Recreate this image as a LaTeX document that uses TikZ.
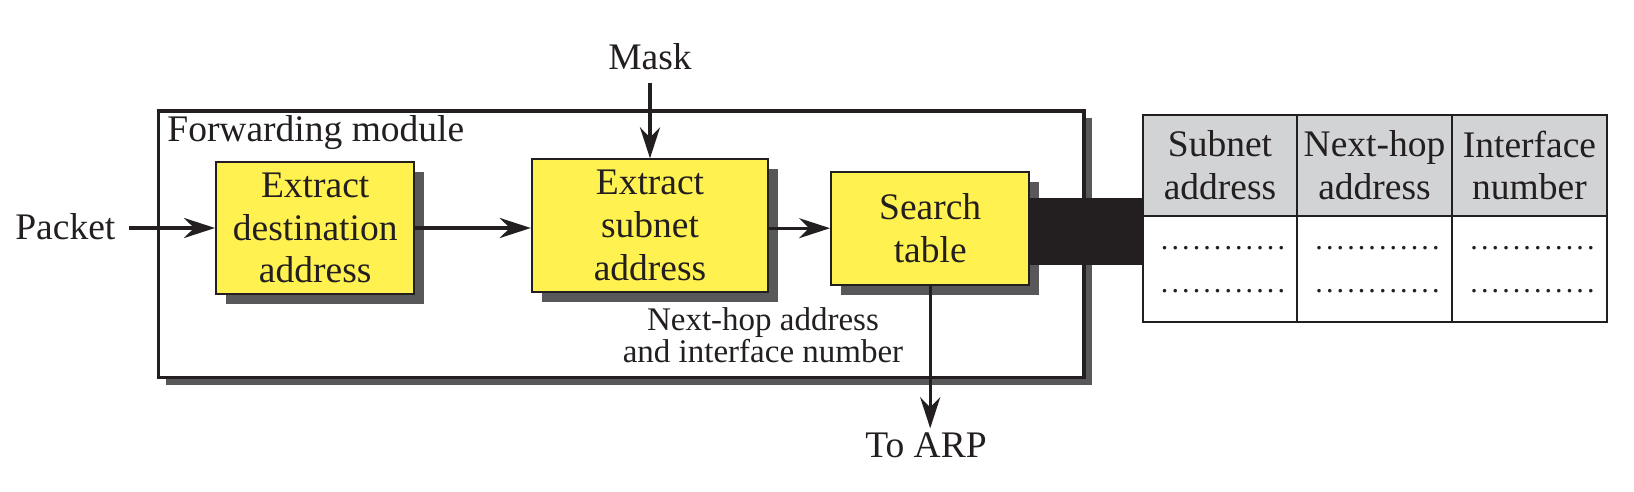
\documentclass[tikz,border=0pt]{standalone}
\usepackage{fontspec}
\setmainfont{Liberation Serif}
\usetikzlibrary{arrows.meta,shadows}

\definecolor{boxyellow}{RGB}{255,241,80}
\definecolor{shadowgray}{RGB}{88,88,90}
\definecolor{headgray}{RGB}{210,211,213}
\definecolor{inkcol}{RGB}{35,31,32}

\newcommand{\dotrow}{\hbox to 63.6pt{\xleaders\hbox to 5.3pt{\hss.\hss}\hfill}}
\newcommand{\notefont}{\fontsize{16.5pt}{15pt}\selectfont}

\begin{document}
\begin{tikzpicture}[x=0.5pt,y=-0.5pt,
  every node/.style={font=\fontsize{18.75pt}{21.4pt}\selectfont, text=inkcol},
  block/.style={draw=inkcol, line width=1pt, fill=boxyellow, align=center, inner sep=0pt,
    drop shadow={shadow xshift=5pt, shadow yshift=-5pt, fill=shadowgray, opacity=1}},
  flow/.style={draw=inkcol, line width=1.6pt, -{Stealth[length=15.5pt,width=10pt,inset=5pt]}}]

\useasboundingbox (0,0) rectangle (1634,492);

% Forwarding module
\node (fwd) [draw=inkcol, line width=1.9pt, fill=white, minimum width=462.85pt, minimum height=133.4pt,
  drop shadow={shadow xshift=3.75pt, shadow yshift=-3.75pt, fill=shadowgray, opacity=1}] at (621.4,244.1) {};
\node (fwdlabel) [anchor=base west, inner sep=0pt] at (167,141) {Forwarding module};

% Steps
\node (dest) [block, minimum width=99.15pt, minimum height=66.25pt] at (315.2,228) {Extract\\destination\\address};
\node (subnet) [block, minimum width=118.2pt, minimum height=66.35pt] at (650,225.7) {Extract\\subnet\\address};
\node (search) [block, minimum width=99.15pt, minimum height=56.5pt] at (930.2,228.2) {Search\\table};

% Link to the table
\fill[inkcol] (1029.5,198.3) rectangle (1143,265);

% Routing table
\fill[headgray] (1143,115) rectangle (1607,216);
\draw[inkcol, line width=1pt] (1143,115) rectangle (1607,321.7);
\draw[inkcol, line width=1pt] (1143,216) -- (1607,216)
  (1297,115) -- (1297,321.7) (1452,115) -- (1452,321.7);
\foreach \cx/\hd [count=\i] in {1220/{Subnet\\address}, 1374.5/{Next-hop\\address}, 1529.5/{Interface\\number}} {
  \node (head\i) [align=center, inner sep=0pt] at (\cx,165.5) {\hd};
  \node (dota\i) [inner sep=0pt, font=\fontsize{15pt}{15pt}\selectfont] at (\cx+3,248.3) {\dotrow};
  \node (dotb\i) [inner sep=0pt, font=\fontsize{15pt}{15pt}\selectfont] at (\cx+3,291) {\dotrow};
}

% Labels
\node (packet) [anchor=base west, inner sep=0pt] at (15,240) {Packet};
\node (mask) [anchor=base, inner sep=0pt] at (650,69.3) {Mask};
\node (arp) [anchor=base, inner sep=0pt] at (926,457.3) {To ARP};
\node (nhlabel) [align=center, inner sep=0pt, font=\notefont] at (763,335)
  {Next-hop address\\and interface number};

% Arrows
\coordinate (pktout) at (128.5,228);
\coordinate (maskout) at (650,82.7);
\coordinate (arpin) at (930.2,428.3);
\draw[flow] (pktout) -- (dest.west);
\draw[flow] (dest.east) -- (dest.east -| subnet.west);
\draw[flow] (subnet.east |- search.west) -- (search.west);
\draw[flow] (maskout) -- (subnet.north);
\draw[flow] (search.south) -- (arpin);

\end{tikzpicture}
\end{document}
